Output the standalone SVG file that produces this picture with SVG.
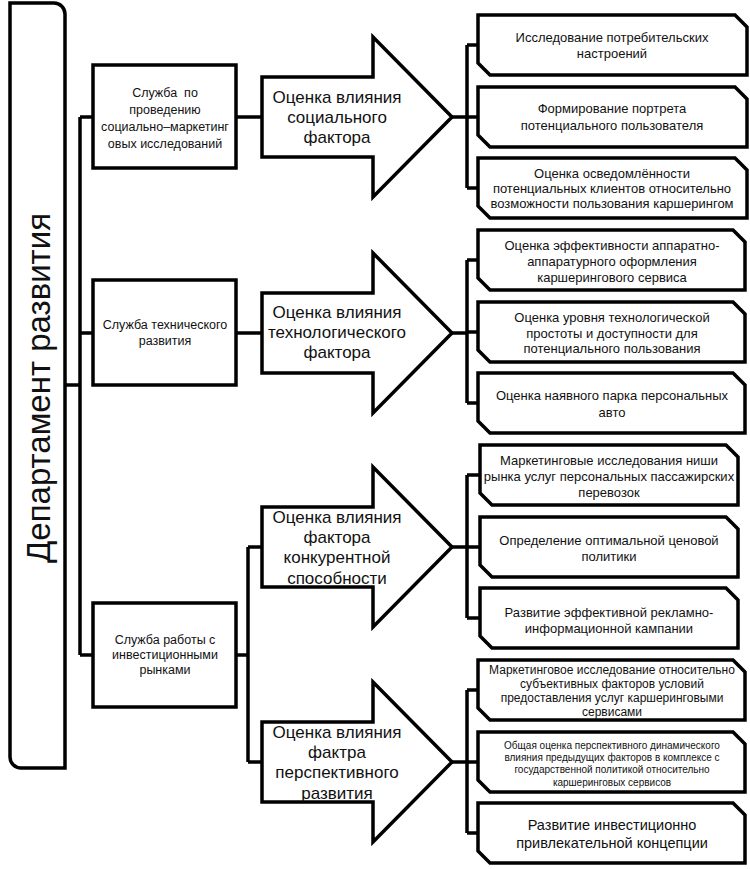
<svg xmlns="http://www.w3.org/2000/svg" width="750" height="869" viewBox="0 0 750 869">
<style>
.s{fill:#fff;stroke:#000;stroke-width:3.5;stroke-linejoin:miter}
.c{fill:none;stroke:#000;stroke-width:3.5}
text{font-family:"Liberation Sans","DejaVu Sans",sans-serif;fill:#111;text-anchor:middle;dominant-baseline:central}
.t13{font-size:13px}
.t12{font-size:12px}
.t10{font-size:10px}
.t14{font-size:14.5px}
.ta{font-size:17px}
.tl{font-size:12.5px}
</style>
<rect width="750" height="869" fill="#fff"/>
<g id="connectors">
<path class="c" d="M65,385H80M80,117V655M80,117H93M80,333H93M80,655H93"/>
<path class="c" d="M236,117H262M236,333H262M236,655H248M248,547V762M248,547H262M248,762H262"/>
<path class="c" d="M452,117H467M467,45V188M467,45H478M467,117H478M467,188H478"/>
<path class="c" d="M452,333H467M467,260V403M467,260H478M467,332H478M467,403H478"/>
<path class="c" d="M452,547H467M467,475V618M467,475H480M467,547H480M467,618H480"/>
<path class="c" d="M452,762H467M467,690V833M467,690H478M467,762H478M467,833H478"/>
</g>
<g id="dept">
<path class="s" d="M10,3H54A11,11 0 0 1 65,14V768H21A11,11 0 0 1 10,757Z"/>
<text transform="translate(38,388) rotate(-90)" style="font-size:33px">Департамент развития</text>
</g>
<g id="svc1">
<rect class="s" x="93" y="65" width="143" height="103"/>
<text class="tl" x="165" y="93">Служба&#160; по</text>
<text class="tl" x="165" y="110">проведению</text>
<text class="tl" x="165" y="127">социально–маркетинг</text>
<text class="tl" x="165" y="144">овых исследований</text>
</g>
<g id="svc2">
<rect class="s" x="93" y="280" width="143" height="105"/>
<text class="tl" x="165" y="325">Служба технического</text>
<text class="tl" x="165" y="341">развития</text>
</g>
<g id="svc3">
<rect class="s" x="93" y="603" width="143" height="104"/>
<text class="tl" x="165" y="640">Служба работы с</text>
<text class="tl" x="165" y="655">инвестиционными</text>
<text class="tl" x="165" y="670">рынками</text>
</g>
<g id="arrow1">
<polygon class="s" points="262,77 373,77 373,37 452,117 373,197 373,157 262,157"/>
<text class="ta" x="337" y="97">Оценка влияния</text>
<text class="ta" x="337" y="117">социального</text>
<text class="ta" x="337" y="137">фактора</text>
</g>
<g id="arrow2">
<polygon class="s" points="262,293 373,293 373,253 452,333 373,413 373,373 262,373"/>
<text class="ta" x="337" y="312">Оценка влияния</text>
<text class="ta" x="337" y="332">технологического</text>
<text class="ta" x="337" y="352">фактора</text>
</g>
<g id="arrow3">
<polygon class="s" points="262,507 373,507 373,467 452,547 373,627 373,587 262,587"/>
<text class="ta" x="337" y="517">Оценка влияния</text>
<text class="ta" x="337" y="537">фактора</text>
<text class="ta" x="337" y="557">конкурентной</text>
<text class="ta" x="337" y="578">способности</text>
</g>
<g id="arrow4">
<polygon class="s" points="262,722 373,722 373,682 452,762 373,842 373,802 262,802"/>
<text class="ta" x="337" y="732">Оценка влияния</text>
<text class="ta" x="337" y="752">фактра</text>
<text class="ta" x="337" y="772">перспективного</text>
<text class="ta" x="337" y="793">развития</text>
</g>
<g id="r1">
<path class="s" d="M478,15H735L747,27V75H490L478,63Z"/>
<text class="t13" x="612" y="37">Исследование потребительских</text>
<text class="t13" x="612" y="53">настроений</text>
</g>
<g id="r2">
<path class="s" d="M478,87H735L747,99V147H490L478,135Z"/>
<text class="t13" x="612" y="108">Формирование портрета</text>
<text class="t13" x="612" y="125">потенциального пользователя</text>
</g>
<g id="r3">
<path class="s" d="M478,158H735L747,170V218H490L478,206Z"/>
<text class="t13" x="612" y="173">Оценка осведомлённости</text>
<text class="t13" x="612" y="188">потенциальных клиентов относительно</text>
<text class="t13" x="612" y="203">возможности пользования каршерингом</text>
</g>
<g id="r4">
<path class="s" d="M478,230H733L745,242V290H490L478,278Z"/>
<text class="t13" x="612" y="245">Оценка эффективности аппаратно-</text>
<text class="t13" x="612" y="261">аппаратурного оформления</text>
<text class="t13" x="612" y="277">каршерингового сервиса</text>
</g>
<g id="r5">
<path class="s" d="M478,302H733L745,314V362H490L478,350Z"/>
<text class="t13" x="612" y="317">Оценка уровня технологической</text>
<text class="t13" x="612" y="333">простоты и доступности для</text>
<text class="t13" x="612" y="348">потенциального пользования</text>
</g>
<g id="r6">
<path class="s" d="M478,373H733L745,385V433H490L478,421Z"/>
<text class="t13" x="612" y="395">Оценка наявного парка персональных</text>
<text class="t13" x="612" y="412">авто</text>
</g>
<g id="r7">
<path class="s" d="M480,445H726L738,457V505H492L480,493Z"/>
<text class="t13" x="609" y="460">Маркетинговые исследования ниши</text>
<text class="t13" x="609" y="476">рынка услуг персональных пассажирских</text>
<text class="t13" x="609" y="492">перевозок</text>
</g>
<g id="r8">
<path class="s" d="M480,517H726L738,529V577H492L480,565Z"/>
<text class="t13" x="609" y="540">Определение оптимальной ценовой</text>
<text class="t13" x="609" y="556">политики</text>
</g>
<g id="r9">
<path class="s" d="M480,588H726L738,600V648H492L480,636Z"/>
<text class="t13" x="609" y="612">Развитие эффективной рекламно-</text>
<text class="t13" x="609" y="628">информационной кампании</text>
</g>
<g id="r10">
<path class="s" d="M478,660H733L745,672V720H490L478,708Z"/>
<text class="t12" x="612" y="670">Маркетинговое исследование относительно</text>
<text class="t12" x="612" y="684">субъективных факторов условий</text>
<text class="t12" x="612" y="698">предоставления услуг каршеринговыми</text>
<text class="t12" x="612" y="712">сервисами</text>
</g>
<g id="r11">
<path class="s" d="M478,732H733L745,744V792H490L478,780Z"/>
<text class="t10" x="612" y="745">Общая оценка перспективного динамического</text>
<text class="t10" x="612" y="757">влияния предыдущих факторов в комплексе с</text>
<text class="t10" x="612" y="769">государственной политикой относительно</text>
<text class="t10" x="612" y="782">каршеринговых сервисов</text>
</g>
<g id="r12">
<path class="s" d="M478,803H733L745,815V863H490L478,851Z"/>
<text class="t14" x="612" y="825">Развитие инвестиционно</text>
<text class="t14" x="612" y="843">привлекательной концепции</text>
</g>
</svg>
